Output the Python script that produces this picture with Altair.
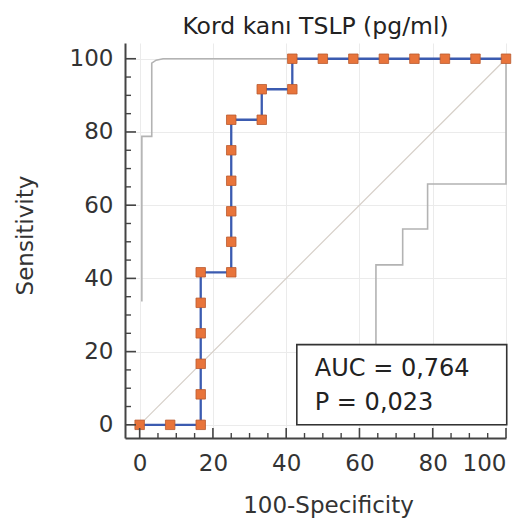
import altair as alt
import pandas as pd

# ROC curve points (100-Specificity, Sensitivity)
fpr = [0, 8.33, 16.67, 16.67, 16.67, 16.67, 16.67, 16.67, 25, 25, 25, 25, 25, 25,
       33.33, 33.33, 41.67, 41.67, 50, 58.33, 66.67, 75, 83.33, 91.67, 100]
tpr = [0, 0, 0, 8.33, 16.67, 25, 33.33, 41.67, 41.67, 50, 58.33, 66.67, 75, 83.33,
       83.33, 91.67, 91.67, 100, 100, 100, 100, 100, 100, 100, 100]

# confidence bounds
upper_x = [0.6, 0.6, 3.3, 3.3, 4.5, 6.4, 100]
upper_y = [33.7, 78.8, 78.8, 98.8, 99.6, 100, 100]
lower_x = [100, 100, 78.6, 78.6, 71.8, 71.8, 64.5, 64.5]
lower_y = [100, 65.8, 65.8, 53.5, 53.5, 43.7, 43.7, 0]

diag_x = [0, 100]
diag_y = [0, 100]

major_ticks = [0, 20, 40, 60, 80, 100]
minor_ticks = [5, 10, 15, 25, 30, 35, 45, 50, 55, 65, 70, 75, 85, 90, 95]

title_text = "Kord kanı TSLP (pg/ml)"
x_title = "100-Specificity"
y_title = "Sensitivity"
auc_lines = ["AUC = 0,764", "P = 0,023"]

FONT = "DejaVu Sans"
W, H = 381, 395
XDOM = [-4, 100]
YDOM = [-3.6, 104.3]

roc = pd.DataFrame({"x": fpr, "y": tpr, "i": range(len(fpr))})
bands = pd.concat([
    pd.DataFrame({"x": upper_x, "y": upper_y, "s": "upper", "i": range(len(upper_x))}),
    pd.DataFrame({"x": lower_x, "y": lower_y, "s": "lower", "i": range(len(lower_x))}),
])
diag = pd.DataFrame({"x": diag_x, "y": diag_y})

xs = alt.Scale(domain=XDOM, nice=False, zero=False)
ys = alt.Scale(domain=YDOM, nice=False, zero=False)

x_axis = alt.Axis(values=major_ticks, title=x_title, ticks=False, labelPadding=14,
                  grid=True, titleX=203, titlePadding=19)
y_axis = alt.Axis(values=major_ticks, title=y_title, ticks=False, labelPadding=12,
                  grid=True, titleY=192, titlePadding=32)

base_x = alt.X("x:Q", scale=xs, axis=x_axis)
base_y = alt.Y("y:Q", scale=ys, axis=y_axis)

diag_layer = alt.Chart(diag).mark_line(color="#d6cfc8", strokeWidth=1.2).encode(
    x=base_x, y=base_y)

band_layer = alt.Chart(bands).mark_line(color="#b3b3b3", strokeWidth=1.6,
                                        interpolate="linear").encode(
    x=alt.X("x:Q", scale=xs), y=alt.Y("y:Q", scale=ys), detail="s:N", order="i:Q")

box_df = pd.DataFrame({"x": [42.9], "x2": [100.2], "y": [0], "y2": [21.9]})
box_layer = alt.Chart(box_df).mark_rect(fill="white", stroke="#333333", strokeWidth=1.6).encode(
    x=alt.X("x:Q", scale=xs), x2="x2:Q", y=alt.Y("y:Q", scale=ys), y2="y2:Q")

text_df = pd.DataFrame({"t": auc_lines, "x": [47.8, 47.8], "y": [13.2, 4.1]})
text_layer = alt.Chart(text_df).mark_text(align="left", baseline="alphabetic", font=FONT,
                                          fontSize=24, color="#222222").encode(
    x=alt.X("x:Q", scale=xs), y=alt.Y("y:Q", scale=ys), text="t:N")

roc_line = alt.Chart(roc).mark_line(color="#3B5BB0", strokeWidth=2.3).encode(
    x=alt.X("x:Q", scale=xs), y=alt.Y("y:Q", scale=ys), order="i:Q")
roc_pts = alt.Chart(roc).mark_point(shape="square", filled=True, size=90, fill="#E8743B",
                                    stroke="#B95A30", strokeWidth=0.8, opacity=1).encode(
    x=alt.X("x:Q", scale=xs), y=alt.Y("y:Q", scale=ys))

# inward ticks
maj_df = pd.DataFrame({"v": major_ticks})
min_df = pd.DataFrame({"v": minor_ticks})
tick_color = "#444444"
xt_major = alt.Chart(maj_df).mark_rule(color=tick_color, strokeWidth=1.6).encode(
    x=alt.X("v:Q", scale=xs), y=alt.value(H), y2=alt.value(H - 10))
xt_minor = alt.Chart(min_df).mark_rule(color=tick_color, strokeWidth=1.4).encode(
    x=alt.X("v:Q", scale=xs), y=alt.value(H), y2=alt.value(H - 5))
yt_major = alt.Chart(maj_df).mark_rule(color=tick_color, strokeWidth=1.6).encode(
    y=alt.Y("v:Q", scale=ys), x=alt.value(0), x2=alt.value(11))
yt_minor = alt.Chart(min_df).mark_rule(color=tick_color, strokeWidth=1.4).encode(
    y=alt.Y("v:Q", scale=ys), x=alt.value(0), x2=alt.value(6))

chart = alt.layer(
    diag_layer, band_layer, box_layer, text_layer, roc_line, roc_pts,
    xt_major, xt_minor, yt_major, yt_minor
).properties(
    width=W, height=H,
    background="white",
    title=alt.TitleParams(title_text, font=FONT, fontSize=23.5, fontWeight="normal",
                          color="#222222", anchor="middle", frame="group",
                          baseline="alphabetic", offset=11, dy=25),
    padding={"left": 117, "top": 35, "right": 12, "bottom": 82},
    autosize=alt.AutoSizeParams(type="none"),
).configure_axis(
    labelFont=FONT, labelFontSize=23, labelColor="#333333",
    titleFont=FONT, titleFontSize=23, titleColor="#333333", titleFontWeight="normal",
    domainColor="#444444", domainWidth=2,
    gridColor="#ebebeb", gridWidth=1,
).configure_view(strokeWidth=0)

chart.save("out.html", embed_options={"renderer": "svg", "actions": False})
